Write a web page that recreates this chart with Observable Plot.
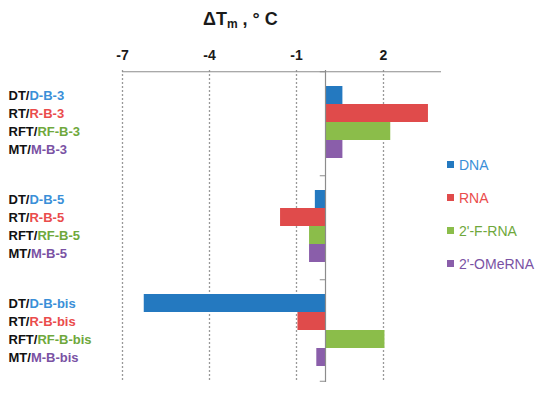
<!DOCTYPE html>
<html><head><meta charset="utf-8">
<script src="https://cdn.jsdelivr.net/npm/d3@7"></script>
<script src="https://cdn.jsdelivr.net/npm/@observablehq/plot@0.6"></script>
<style>
body{margin:0;background:#fff;font-family:Arial,"Liberation Sans",sans-serif;}
#wrap{position:relative;width:550px;height:395px;overflow:hidden;}
#title{height:36px;line-height:38px;padding-left:203px;font-weight:bold;font-size:18px;color:#1a1a1a;white-space:nowrap;}
#title sub{font-size:12px;vertical-align:-3px;}
#legend{position:absolute;left:447px;top:148px;}
.item{display:flex;align-items:center;height:33px;font-size:14px;white-space:nowrap;}
.sw{width:7px;height:7px;margin-right:5px;flex:none;}
</style></head><body>
<div id="wrap"><div id="title">ΔT<sub>m</sub> , ° C</div><div id="chart"></div><div id="legend"></div></div>
<script>
const groups = ["B-3", "B-5", "B-bis"];
const series = ["DNA", "RNA", "2'-F-RNA", "2'-OMeRNA"];
const legendLabels = ["DNA", "RNA", "2'-F-RNA", "2'-OMeRNA"];
const prefixes = ["DT/", "RT/", "RFT/", "MT/"];
const suffixes = ["D-", "R-", "RF-", "M-"];
const valuesB3 = [0.6, 3.55, 2.25, 0.6];
const valuesB5 = [-0.35, -1.55, -0.55, -0.55];
const valuesBbis = [-6.25, -0.95, 2.05, -0.3];
const xTicks = [-7, -4, -1, 2];
const xDomain = [-7, 4];
const barColors = ["#2479c0", "#e04b4b", "#8bbd4a", "#8a5eaa"];
const textColors = ["#3a8fd8", "#ea4c4c", "#6fa83c", "#7a52a4"];

const valuesByGroup = [valuesB3, valuesB5, valuesBbis];
const data = [];
groups.forEach((g, gi) => series.forEach((s, si) => data.push({
  group: g, series: s, si, value: valuesByGroup[gi][si],
  prefix: prefixes[si], suffix: suffixes[si] + g, label: prefixes[si] + suffixes[si] + g
})));

const halfBand = 23.75;
const axisColor = "#8c8c8c";

const chart = Plot.plot({
  width: 550,
  height: 359,
  marginTop: 33,
  marginBottom: 13,
  marginLeft: 122,
  marginRight: 109,
  style: {fontFamily: "Arial, 'Liberation Sans', sans-serif", fontSize: "14px", fontWeight: "bold", color: "#1a1a1a", background: "white"},
  x: {domain: xDomain, ticks: xTicks, axis: "top", tickSize: 0, tickPadding: 11, label: null, tickFormat: d => String(d)},
  y: {domain: series, paddingInner: 0, paddingOuter: 0.75, axis: null},
  fy: {domain: groups, padding: 0, axis: null},
  color: {domain: series, range: barColors},
  marks: [
    Plot.ruleX(xTicks, {stroke: "#999", strokeDasharray: "2,2", strokeWidth: 1.3}),
    Plot.barX(data, {fy: "group", y: "series", x: "value", fill: "series"}),
    Plot.ruleX([0], {stroke: axisColor, strokeWidth: 1.2}),
    Plot.ruleY(data.filter(d => d.si === 0), {fy: "group", y: "series", x1: -0.18, x2: 0, dy: -halfBand, stroke: axisColor}),
    Plot.ruleY(data.filter(d => d.si === 3 && d.group === groups[2]), {fy: "group", y: "series", x1: -0.18, x2: 0, dy: halfBand, stroke: axisColor}),
    Plot.ruleY(data.filter(d => d.si === 0 && d.group === groups[0]), {fy: "group", y: "series", x1: xDomain[0], x2: xDomain[1], dy: -halfBand, stroke: axisColor, strokeWidth: 1.2}),
    Plot.text(data, {fy: "group", y: "series", text: "label", frameAnchor: "left", dx: -114, textAnchor: "start", fontWeight: "bold", fontSize: 13, fill: "#111"})
  ]
});
document.getElementById("chart").appendChild(chart);

// colour the suffix part of each bar label
d3.select(chart).selectAll('g[aria-label="text"] text').each(function() {
  const t = this.textContent;
  const d = data.find(e => e.label === t);
  if (!d) return;
  const sel = d3.select(this);
  sel.text(null);
  sel.append("tspan").attr("fill", "#111").text(d.prefix);
  sel.append("tspan").attr("fill", textColors[d.si]).text(d.suffix);
});

const legend = d3.select("#legend");
series.forEach((s, i) => {
  const it = legend.append("div").attr("class", "item");
  it.append("div").attr("class", "sw").style("background", barColors[i]);
  it.append("span").style("color", textColors[i]).text(legendLabels[i]);
});
</script>
</body></html>
